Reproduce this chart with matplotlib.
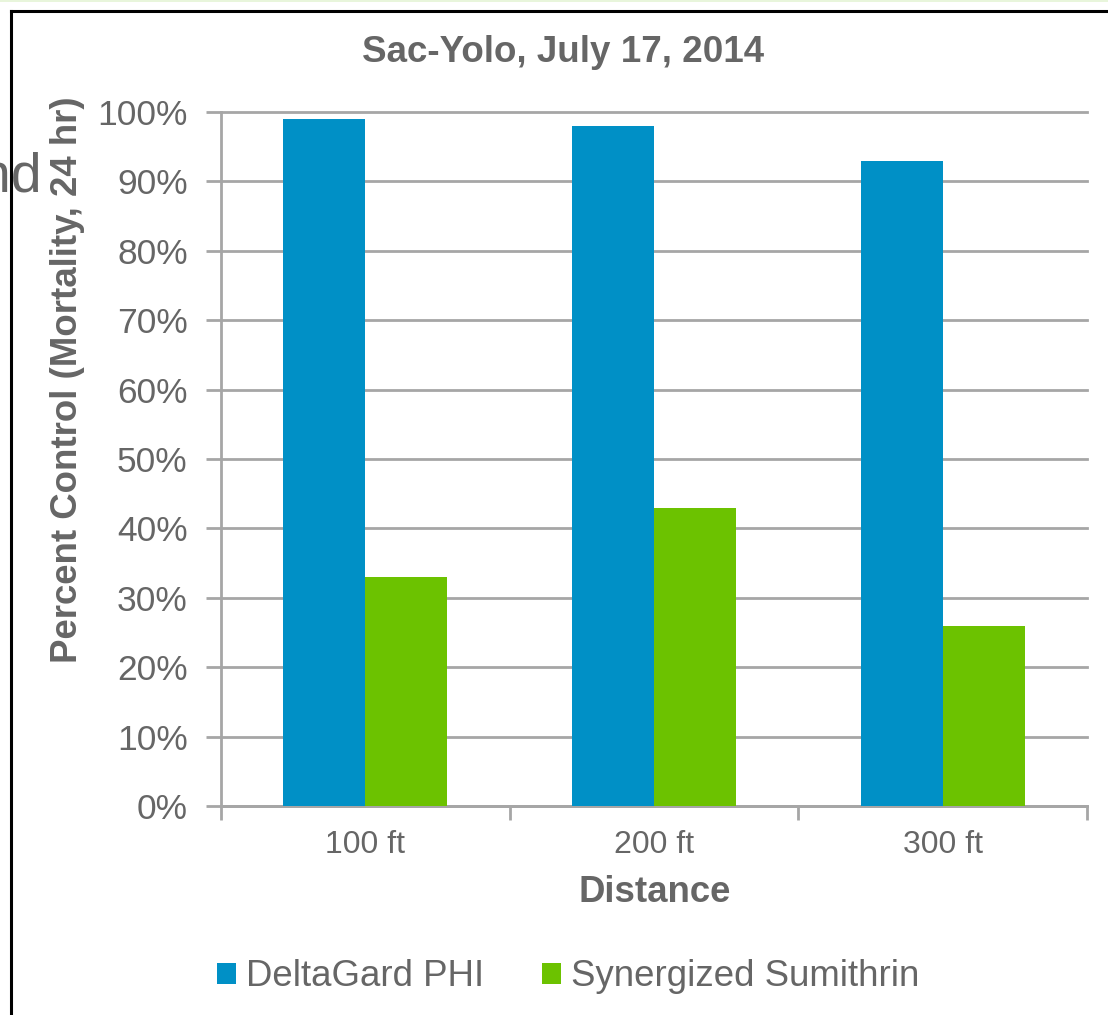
import matplotlib
matplotlib.use("Agg")
import matplotlib.pyplot as plt
from matplotlib.ticker import PercentFormatter, FixedLocator
from matplotlib.lines import Line2D
import numpy as np

categories = ["100 ft", "200 ft", "300 ft"]
series_names = ["DeltaGard PHI", "Synergized Sumithrin"]
deltagard = [0.99, 0.98, 0.93]
sumithrin = [0.33, 0.43, 0.26]
yticks = [0.0, 0.1, 0.2, 0.3, 0.4, 0.5, 0.6, 0.7, 0.8, 0.9, 1.0]

BLUE = "#0090C6"
GREEN = "#6CC200"
GRAY = "#666666"
GRID = "#A6A6A6"

plt.rcParams["font.family"] = ["Liberation Sans", "DejaVu Sans"]

W, H = 1108, 1015
fig = plt.figure(figsize=(W / 100, H / 100), dpi=100)
fig.patch.set_facecolor("white")

ax = fig.add_axes([221 / W, 1 - 806 / H, (1087 - 221) / W, (806 - 112) / H])

x = np.arange(len(categories))
bw = 0.284
b1 = ax.bar(x - bw / 2, deltagard, width=bw, color=BLUE, label=series_names[0], zorder=3)
b2 = ax.bar(x + bw / 2, sumithrin, width=bw, color=GREEN, label=series_names[1], zorder=3)

ax.set_xlim(-0.5, len(categories) - 0.5)
ax.set_ylim(0, 1.0)
ax.yaxis.set_major_locator(FixedLocator(yticks))
ax.yaxis.set_major_formatter(PercentFormatter(1.0, decimals=0))
ax.set_xticks(x)
ax.set_xticklabels(categories)
ax.set_xticks(np.arange(len(categories) + 1) - 0.5, minor=True)

ax.grid(axis="y", color=GRID, linewidth=2, zorder=0)
for gl in ax.yaxis.get_gridlines():
    gl.set_clip_on(False)
ax.set_axisbelow(True)

for s in ["top", "right"]:
    ax.spines[s].set_visible(False)
for s in ["left", "bottom"]:
    ax.spines[s].set_color(GRID)
    ax.spines[s].set_linewidth(2)

ax.tick_params(axis="y", direction="out", length=11, width=2, color=GRID,
               labelsize=25.5, labelcolor=GRAY, pad=13)
ax.tick_params(axis="x", which="major", length=0, labelsize=23, labelcolor=GRAY, pad=17.5)
ax.tick_params(axis="x", which="minor", direction="out", length=10, width=2, color=GRID)

fig.text(563 / W, 1 - 52 / H, "Sac-Yolo, July 17, 2014", ha="center", va="center",
         fontsize=26.5, fontweight="bold", color=GRAY)
fig.text(68 / W, 1 - 380 / H, "Percent Control (Mortality, 24 hr)", ha="center", va="center",
         rotation=90, fontsize=26.4, fontweight="bold", color=GRAY)
fig.text(655 / W, 1 - 893 / H, "Distance", ha="center", va="center",
         fontsize=26.4, fontweight="bold", color=GRAY)

leg = fig.legend(handles=[b1, b2], loc="center", bbox_to_anchor=(568 / W, 1 - 977 / H),
                 ncol=2, frameon=False, fontsize=26.4, handlelength=0.52, handleheight=0.52,
                 handletextpad=0.27, columnspacing=1.58, borderpad=0)
for t in leg.get_texts():
    t.set_color(GRAY)

# slide frame and background fragments
fig.add_artist(Line2D([10.5 / W, 10.5 / W], [0, 1 - 10.5 / H], transform=fig.transFigure,
                      color="black", linewidth=2.2))
fig.add_artist(Line2D([10.5 / W, 1], [1 - 11 / H, 1 - 11 / H], transform=fig.transFigure,
                      color="black", linewidth=2.2))
fig.add_artist(Line2D([0, 1], [1 - 0.5 / H, 1 - 0.5 / H], transform=fig.transFigure,
                      color="#E4F3D4", linewidth=1.2))
fig.text(42 / W, 1 - 178 / H, "and", ha="right", va="center", fontsize=40, color=GRAY)

fig.savefig("out.png", dpi=100, facecolor="white")
